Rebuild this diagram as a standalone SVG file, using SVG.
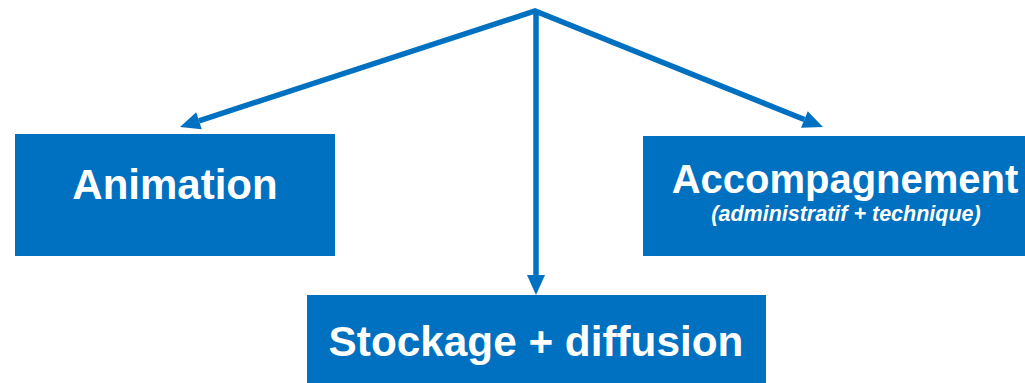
<svg xmlns="http://www.w3.org/2000/svg" width="1025" height="383" viewBox="0 0 1025 383">
  <style>
    .box { fill: #0070C0; }
    .lbl { fill: #FFFFFF; font-family: "Liberation Sans", Arial, sans-serif; font-weight: bold; text-anchor: middle; }
    .sub { font-style: italic; }
    .conn { fill: none; stroke: #0070C0; stroke-width: 5.5; }
  </style>
  <defs>
    <marker id="arr" markerUnits="userSpaceOnUse" markerWidth="22" markerHeight="20" refX="0" refY="9" orient="auto-start-reverse" overflow="visible">
      <path d="M0,0 L20,9 L0,18 z" fill="#0070C0"/>
    </marker>
  </defs>
  <rect width="1025" height="383" fill="#FFFFFF"/>
  <g id="connectors">
    <path class="conn" d="M199,120.8 L535,11 L804.4,119.5" stroke-linejoin="miter" marker-start="url(#arr)" marker-end="url(#arr)"/>
    <line class="conn" x1="536" y1="12" x2="536" y2="275" marker-end="url(#arr)"/>
  </g>
  <g id="node-animation">
    <rect class="box" x="15" y="134" width="320" height="122"/>
    <text class="lbl" x="175" y="199" font-size="42">Animation</text>
  </g>
  <g id="node-accompagnement">
    <rect class="box" x="643" y="136" width="382" height="120"/>
    <text class="lbl" x="845" y="193" font-size="40">Accompagnement</text>
    <text class="lbl sub" x="846" y="221" font-size="21.5">(administratif + technique)</text>
  </g>
  <g id="node-stockage">
    <rect class="box" x="307" y="295" width="459" height="88"/>
    <text class="lbl" x="536" y="356" font-size="42.3">Stockage + diffusion</text>
  </g>
</svg>
